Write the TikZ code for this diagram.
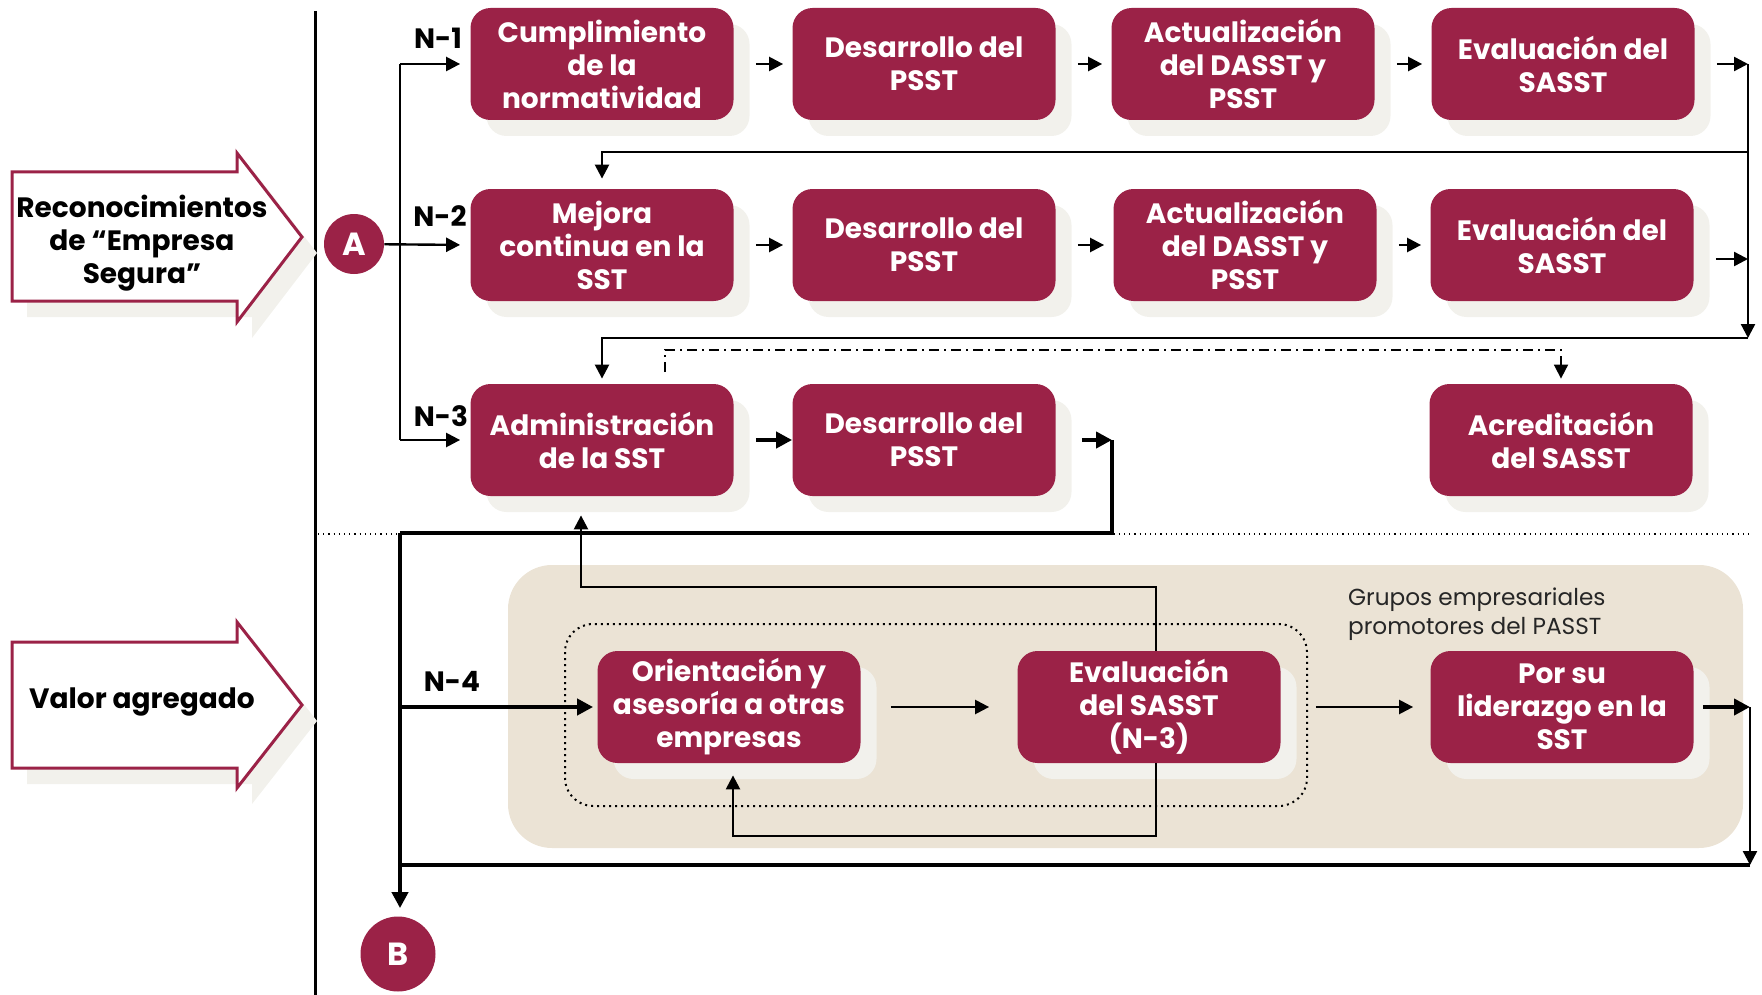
\documentclass[tikz,border=0pt]{standalone}
\usepackage{fontspec}
\setmainfont{Poppins}
\usepackage{xcolor}
\definecolor{guinda}{RGB}{155,34,71}
\definecolor{sombra}{RGB}{242,241,236}
\definecolor{arena}{RGB}{235,227,213}
\usetikzlibrary{shadows}
\usetikzlibrary{arrows.meta}

\begin{document}
\begin{tikzpicture}[x=0.5pt,y=-0.5pt,
caja/.style={rectangle,rounded corners=10pt,fill=guinda,text=white,minimum width=131.5pt,minimum height=56pt,inner sep=2pt,align=center,font=\fontsize{14}{16.5}\selectfont\bfseries,drop shadow={shadow xshift=8pt,shadow yshift=-8pt,fill=sombra,opacity=1}},
letra/.style={circle,fill=guinda,text=white,inner sep=0pt,font=\fontsize{16}{16}\selectfont\bfseries},
nivel/.style={font=\fontsize{14}{16}\selectfont\bfseries},
linea/.style={line width=1.2pt},
gruesa/.style={line width=2pt},
flecha/.style={line width=1.2pt,-{Triangle[length=7pt,width=7pt]}},
flechag/.style={line width=2pt,-{Triangle[length=8pt,width=8pt]}},
]
\useasboundingbox (0,0) rectangle (1762,995);

\fill[arena,rounded corners=22pt] (508,565) rectangle (1743,848);
\draw[dotted,line width=1pt,rounded corners=14pt] (565,624) rectangle (1307,806);
\draw[dotted,line width=0.6pt] (318,534) -- (1749,534);
\draw[line width=1.5pt] (315,11) -- (315,995);

\begin{scope}[shift={(15,16)}]
\fill[sombra] (12,172) -- (237,172) -- (237,153) -- (302,237) -- (237,322) -- (237,301) -- (12,301) -- cycle;
\fill[sombra] (12,642) -- (237,642) -- (237,622) -- (302,705) -- (237,788) -- (237,768) -- (12,768) -- cycle;
\end{scope}
\filldraw[draw=guinda,fill=white,line width=1.5pt] (12,172) -- (237,172) -- (237,153) -- (302,237) -- (237,322) -- (237,301) -- (12,301) -- cycle;
\filldraw[draw=guinda,fill=white,line width=1.5pt] (12,642) -- (237,642) -- (237,622) -- (302,705) -- (237,788) -- (237,768) -- (12,768) -- cycle;
\node[align=center,font=\fontsize{14}{16.5}\selectfont\bfseries] (reco) at (142,243) {Reconocimientos\\de “Empresa\\Segura”};
\node[font=\fontsize{14}{16.5}\selectfont\bfseries] (valor) at (142,702) {Valor agregado};

\node[caja] (b11) at (602,64) {Cumplimiento\\de la\\normatividad};
\node[caja] (b12) at (924,64) {Desarrollo del\\PSST};
\node[caja] (b13) at (1243,64) {Actualización\\del DASST y\\PSST};
\node[caja] (b14) at (1563,64) {Evaluación del\\SASST};
\node[caja] (b21) at (602,245) {Mejora\\continua en la\\SST};
\node[caja] (b22) at (924,245) {Desarrollo del\\PSST};
\node[caja] (b23) at (1245,245) {Actualización\\del DASST y\\PSST};
\node[caja] (b24) at (1562,245) {Evaluación del\\SASST};
\node[caja] (b31) at (602,440) {Administración\\de la SST};
\node[caja] (b32) at (924,440) {Desarrollo del\\PSST};
\node[caja] (b34) at (1561,440) {Acreditación\\del SASST};
\node[caja] (b41) at (729,707) {Orientación y\\asesoría a otras\\empresas};
\node[caja] (b42) at (1149,707) {Evaluación\\del SASST\\(N-3)};
\node[caja] (b43) at (1562,707) {Por su\\liderazgo en la\\SST};

\node[letra,minimum size=30pt] (A) at (354,244) {A};
\node[letra,minimum size=37.5pt] (B) at (398,954) {B};

\node[nivel] (n1) at (438,38) {N-1};
\node[nivel] (n2) at (440,216) {N-2};
\node[nivel] (n3) at (441,416) {N-3};
\node[nivel] (n4) at (452,681) {N-4};
\node[anchor=west,align=left,text=black!85,font=\fontsize{11.6}{14.5}\selectfont] (grupos) at (1341,614) {Grupos empresariales\\promotores del PASST};

\coordinate (v1) at (400,64);
\coordinate (v3) at (400,440);
\draw[linea] (v1) -- (v3);
\draw[flecha,shorten >=5pt] (v1) -- (b11.west);
\draw[flecha,shorten >=5pt] (A) -- (b21.west);
\draw[flecha,shorten >=5pt] (v3) -- (b31.west);

\foreach \r in {1,2} {
  \foreach \a/\b in {1/2,2/3,3/4} {
    \draw[flecha,shorten <=11pt,shorten >=4.5pt] (b\r\a.east) -- (b\r\b.west);
  }
}

\coordinate (c1) at (1748,64);
\coordinate (c4) at (1748,152);
\coordinate (c2) at (1748,259);
\coordinate (c3) at (1748,338);
\draw[flecha,shorten <=11pt] (b14.east) -- (c1);
\draw[flecha] (c1) -- (c3);
\draw[flecha,shorten >=5pt] (c4) -| (b21.north);
\draw[flecha,shorten <=11pt] (b24.east |- c2) -- (c2);
\draw[flecha,shorten >=2.5pt] (c3) -| (b31.north);

\coordinate (d1) at (665,372);
\coordinate (d2) at (665,350);
\draw[line width=0.9pt,dash pattern=on 5pt off 2.5pt on 1pt off 2.5pt,-{Triangle[length=7pt,width=7pt]},shorten >=2.5pt] (d1) -- (d2) -| (b34.north);

\coordinate (e1) at (1112,440);
\coordinate (e2) at (1112,533);
\coordinate (e3) at (400,533);
\draw[flechag,shorten <=11pt] (b31.east) -- (b32.west);
\draw[flechag,shorten <=13pt] (b32.east) -- (e1);
\draw[gruesa] (e1) -- (e2) -- (e3);
\draw[flechag,shorten >=4pt] (e3) -- (e3 |- B.north);

\coordinate (f1) at (400,707);
\draw[flechag,shorten >=2pt] (f1) -- (b41.west);
\draw[flecha,shorten <=15pt,shorten >=14pt] (b41.east) -- (b42.west);
\draw[flecha,shorten <=17.5pt,shorten >=8.5pt] (b42.east) -- (b43.west);

\coordinate (g1) at (1750,707);
\coordinate (g2) at (1750,865);
\coordinate (g3) at (400,865);
\draw[flechag,shorten <=4.5pt] (b43.east) -- (g1);
\draw[flecha] (g1) -- (g2);
\draw[gruesa] (g2) -- (g3);

\coordinate (h1) at (1156,587);
\coordinate (h2) at (581,587);
\coordinate (h3) at (1156,836);
\coordinate (h4) at (733,836);
\draw[flecha,shorten >=9.5pt] (b42.north -| h1) |- (h2) -- (h2 |- b31.south);
\draw[flecha,shorten >=6pt] (b42.south -| h3) -- (h3) -- (h4) -- (h4 |- b41.south);
\end{tikzpicture}
\end{document}
